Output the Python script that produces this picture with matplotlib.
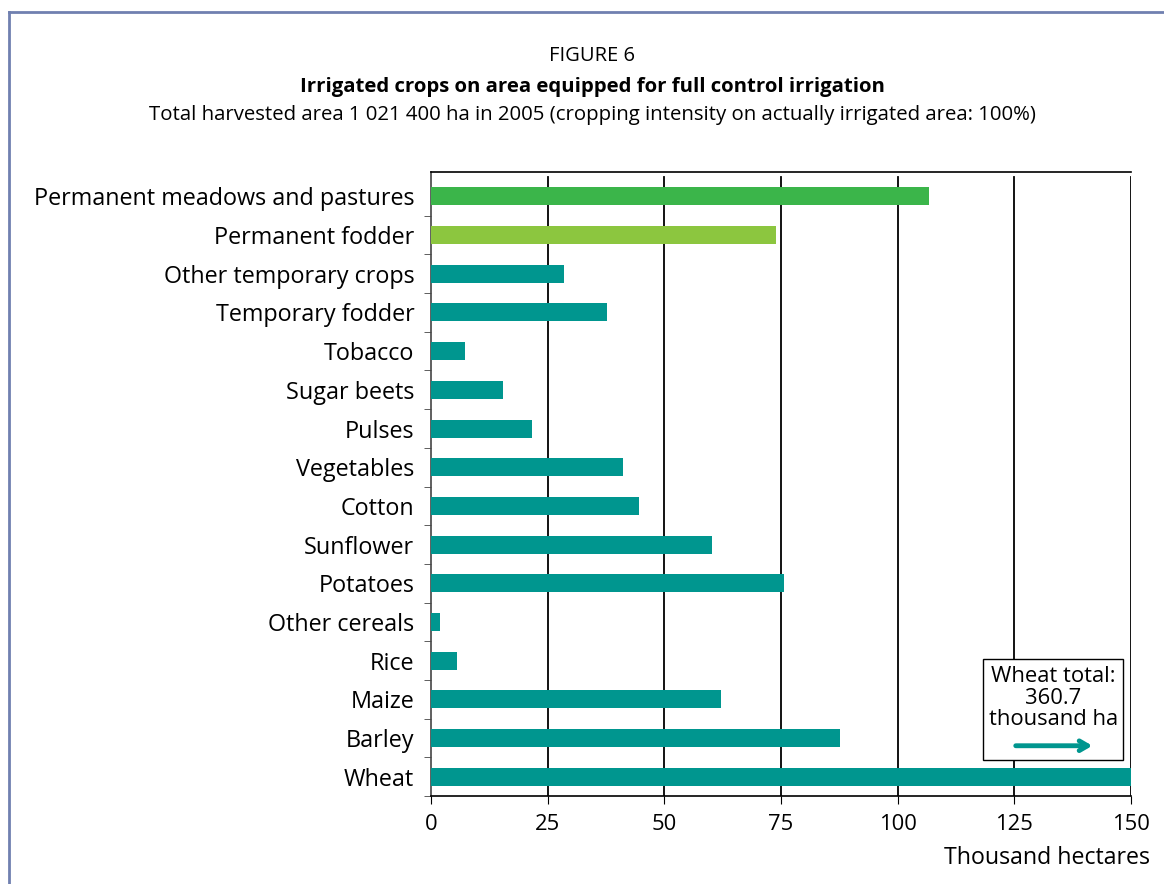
import matplotlib.pyplot as plt
from matplotlib.lines import Line2D
from matplotlib.patches import Rectangle

plt.rcParams['font.family'] = ['Open Sans', 'DejaVu Sans']

crops = ['Permanent meadows and pastures', 'Permanent fodder', 'Other temporary crops',
         'Temporary fodder', 'Tobacco', 'Sugar beets', 'Pulses', 'Vegetables', 'Cotton',
         'Sunflower', 'Potatoes', 'Other cereals', 'Rice', 'Maize', 'Barley', 'Wheat']
areas = [106.7, 73.9, 28.5, 37.7, 7.3, 15.4, 21.6, 41.1, 44.6,
         60.2, 75.6, 1.9, 5.6, 62.1, 87.6, 360.7]
colors = ['#3bb54a', '#8cc63f'] + ['#00968f'] * 14
xticks = [0, 25, 50, 75, 100, 125, 150]

fig = plt.figure(figsize=(11.64, 8.84), dpi=100)
ax = fig.add_axes([0.3703, 0.0995, 0.6014, 0.7059])

n = len(crops)
ypos = list(range(n))
ax.barh(ypos, areas, height=0.465, color=colors, zorder=3)
ax.set_ylim(n - 0.5, -0.63)
ax.set_xlim(0, 150)

for x in xticks[1:]:
    ax.plot([x, x], [n - 0.5, -0.5], color='black', lw=1.3, zorder=1)

ax.set_yticks(ypos)
ax.set_yticklabels(crops, fontsize=16.8)
ax.tick_params(axis='y', length=0, pad=12)
ax.set_yticks([i + 0.5 for i in range(n)], minor=True)
ax.tick_params(axis='y', which='minor', length=5, color='#444444')
ax.set_xticks(xticks)
ax.set_xticklabels([str(x) for x in xticks], fontsize=15.8)
ax.tick_params(axis='x', length=6, direction='out', pad=7)

ax.spines['right'].set_visible(False)
ax.spines['top'].set_color('black')
for s in ['left', 'bottom', 'top']:
    ax.spines[s].set_linewidth(1.2)
ax.spines['left'].set_color('#444444')

ax.text(1.027, -0.08, 'Thousand hectares', transform=ax.transAxes,
        ha='right', va='top', fontsize=16.7)

# wheat note
ax.add_patch(Rectangle((118.3, 11.96), 30.0, 2.62, fc='white', ec='black', lw=1.0, zorder=5))
ax.text(133.3, 12.97, 'Wheat total:\n360.7\nthousand ha', ha='center', va='center',
        fontsize=15.8, linespacing=1.05, zorder=6)
ax.annotate('', xy=(142.3, 14.2), xytext=(124.7, 14.2),
            arrowprops=dict(arrowstyle='->,head_length=0.6,head_width=0.35', color='#00968f', lw=3.5),
            zorder=7)

fig.text(0.509, 0.937, 'FIGURE 6', ha='center', va='center', fontsize=14.5)
fig.text(0.509, 0.902, 'Irrigated crops on area equipped for full control irrigation',
         ha='center', va='center', fontsize=14.7, fontweight='bold')
fig.text(0.509, 0.870, 'Total harvested area 1 021 400 ha in 2005 (cropping intensity on actually irrigated area: 100%)',
         ha='center', va='center', fontsize=14.7)

fig.add_artist(Line2D([0.008, 0.008], [0, 0.986], transform=fig.transFigure, color='#7080b0', lw=2))
fig.add_artist(Line2D([0.008, 1], [0.986, 0.986], transform=fig.transFigure, color='#7080b0', lw=2))

fig.savefig('out.png', dpi=100)
